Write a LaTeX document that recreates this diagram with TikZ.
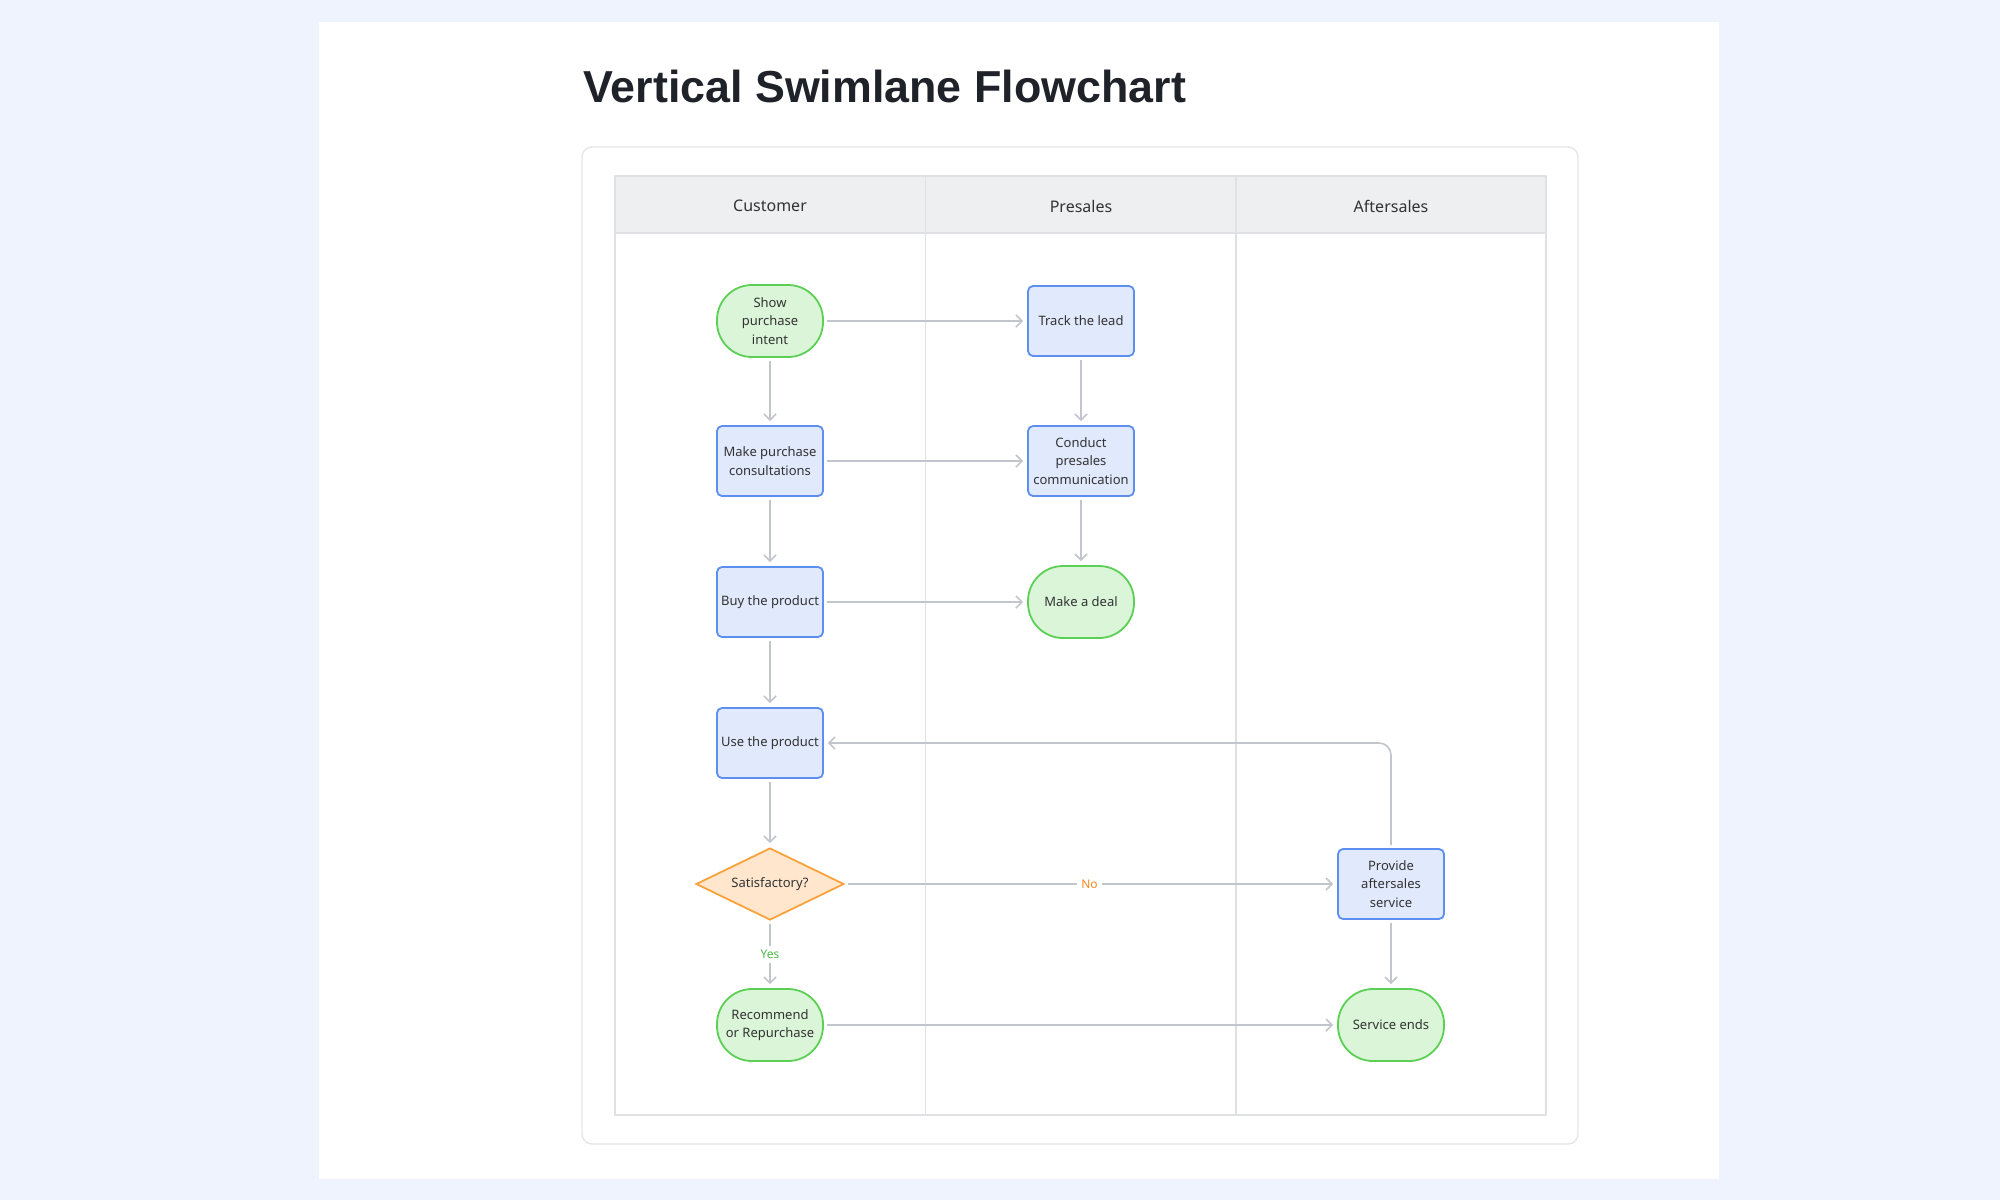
\documentclass[tikz,border=0pt]{standalone}
\usepackage{fontspec}
\setmainfont{Noto Sans}
\newfontfamily\titlefont{Liberation Sans}
\usetikzlibrary{shapes.geometric,arrows.meta}
\definecolor{bgblue}{HTML}{EEF3FE}
\definecolor{cardline}{HTML}{E4E6EA}
\definecolor{laneline}{HTML}{E0E1E4}
\definecolor{headfill}{HTML}{EEEFF1}
\definecolor{txt}{HTML}{333333}
\definecolor{titletxt}{HTML}{1F2329}
\definecolor{gstroke}{HTML}{5CCF55}
\definecolor{gfill}{HTML}{DAF5D7}
\definecolor{bstroke}{HTML}{5C8FF0}
\definecolor{bfill}{HTML}{E1E9FD}
\definecolor{ostroke}{HTML}{F7A23B}
\definecolor{ofill}{HTML}{FFE6CC}
\definecolor{conn}{HTML}{C2C5CC}
\definecolor{notxt}{HTML}{F08A24}
\definecolor{yestxt}{HTML}{4CB84A}
\tikzset{
  nodetext/.style={font=\fontsize{6.5pt}{9.2pt}\selectfont, text=txt, align=center, inner sep=0pt},
  procbox/.style={nodetext, rectangle, rounded corners=2.5pt, draw=bstroke, fill=bfill, line width=0.9pt, minimum width=53pt, minimum height=35pt},
  termbox/.style={nodetext, rectangle, rounded corners=17.5pt, draw=gstroke, fill=gfill, line width=0.9pt, minimum width=53pt, minimum height=36pt},
  decbox/.style={nodetext, diamond, aspect=2.05, draw=ostroke, fill=ofill, line width=0.9pt, minimum width=74pt, minimum height=36pt},
  flow/.style={draw=conn, line width=0.8pt, -{Straight Barb[length=3pt,width=6pt]}, shorten <=1.5pt, shorten >=2pt},
  lanehead/.style={font=\fontsize{8pt}{10pt}\selectfont, text=txt, inner sep=0pt},
  edgelabel/.style={font=\fontsize{6pt}{8pt}\selectfont, fill=white, inner sep=2pt}
}
\begin{document}
\begin{tikzpicture}[x=0.5pt,y=-0.5pt]
\useasboundingbox (0,0) rectangle (2000,1200);
\fill[bgblue] (0,0) rectangle (2000,1200);
\fill[white] (319,22) rectangle (1719,1179);
% title
\node[anchor=base west, inner sep=0pt, font=\titlefont\bfseries\fontsize{22.4pt}{26pt}\selectfont, text=titletxt] (title) at (583,102) {Vertical Swimlane Flowchart};
% card
\draw[cardline, line width=0.7pt, rounded corners=5pt, fill=white] (582,147) rectangle (1578,1144);
% table
\fill[headfill] (615,176) rectangle (1546,233);
\draw[laneline, line width=0.8pt] (615,176) rectangle (1546,1115);
\draw[laneline, line width=0.8pt] (615,233) -- (1546,233);
\draw[laneline, line width=0.8pt] (925.5,176) -- (925.5,1115);
\draw[laneline, line width=0.8pt] (1236,176) -- (1236,1115);
\node[lanehead] (h1) at (770,206) {Customer};
\node[lanehead] (h2) at (1081,206) {Presales};
\node[lanehead] (h3) at (1391,206) {Aftersales};
% nodes
\node[termbox] (spi) at (770,321) {Show\\purchase\\intent};
\node[procbox] (track) at (1081,321) {Track the lead};
\node[procbox] (mpc) at (770,461) {Make purchase\\consultations};
\node[procbox] (cpc) at (1081,461) {Conduct\\presales\\communication};
\node[procbox] (buy) at (770,602) {Buy the product};
\node[termbox] (deal) at (1081,602) {Make a deal};
\node[procbox] (use) at (770,743) {Use the product};
\node[decbox] (sat) at (770,884) {Satisfactory?};
\node[procbox] (pas) at (1391,884) {Provide\\aftersales\\service};
\node[termbox] (rec) at (770,1025) {Recommend\\or Repurchase};
\node[termbox] (se) at (1391,1025) {Service ends};
% connectors
\draw[flow] (spi) -- (track);
\draw[flow] (spi) -- (mpc);
\draw[flow] (track) -- (cpc);
\draw[flow] (mpc) -- (cpc);
\draw[flow] (mpc) -- (buy);
\draw[flow] (cpc) -- (deal);
\draw[flow] (buy) -- (deal);
\draw[flow] (buy) -- (use);
\draw[flow] (use) -- (sat);
\draw[flow] (sat) -- node[edgelabel, text=notxt, pos=0.497] (nolab) {No} (pas);
\draw[flow] (sat) -- node[edgelabel, text=yestxt] (yeslab) {Yes} (rec);
\draw[flow] (pas) -- (se);
\draw[flow] (rec) -- (se);
\draw[flow, rounded corners=6pt] (pas.north) |- (use.east);
\end{tikzpicture}
\end{document}
